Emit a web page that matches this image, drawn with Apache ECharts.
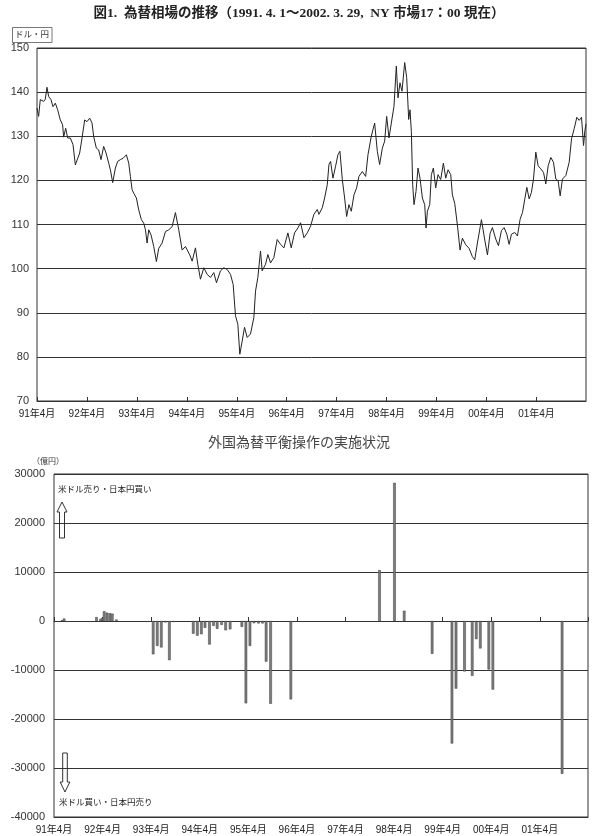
<!DOCTYPE html>
<html>
<head>
<meta charset="utf-8">
<script src="https://cdn.jsdelivr.net/npm/echarts@6/dist/echarts.min.js"></script>
<style>
html, body { margin: 0; padding: 0; background: #fff; }
#chart { width: 615px; height: 836px; }
</style>
</head>
<body>
<div id="chart"></div>
<script>
// x = months since 1991年4月1日
const yearLabels = ['91年4月', '92年4月', '93年4月', '94年4月', '95年4月', '96年4月', '97年4月', '98年4月', '99年4月', '00年4月', '01年4月']

// ドル・円 (NY 17:00)
const rateMonths = [
	0, 0.39, 0.79, 1.6, 2.0, 2.4, 2.8, 3.36, 3.84, 4.4, 4.96, 5.6, 6.16, 6.4, 6.89, 7.37, 8.01, 8.65, 9.21, 9.61,
	10.25, 10.82, 11.46, 12.02, 12.66, 13.22, 13.62, 14.26, 14.82, 15.38, 16.02, 16.59, 17.23, 17.63, 18.19, 18.83, 19.39, 20.03, 20.68, 21.48,
	22.04, 22.44, 22.84, 23.24, 23.88, 24.44, 25.08, 25.64, 26.05, 26.45, 26.85, 27.41, 28.05, 28.69, 29.25, 30.06, 30.86, 31.66, 32.46, 33.26,
	34.06, 34.87, 35.67, 36.71, 37.28, 38.07, 38.63, 39.27, 40.08, 40.88, 41.68, 42.48, 43.12, 44.08, 44.89, 45.69, 46.49, 47.13, 47.69, 48.25,
	48.73, 49.3, 49.86, 50.5, 51.3, 52.1, 52.5, 53.06, 53.7, 54.1, 54.91, 55.47, 56.11, 56.91, 57.71, 58.51, 59.32, 60.28, 61.08, 61.88,
	62.68, 63.32, 64.13, 64.93, 65.73, 66.53, 67.33, 67.73, 68.54, 69.1, 69.74, 70.14, 70.54, 71.1, 71.74, 72.3, 72.78, 73.35, 73.91, 74.39,
	74.95, 75.51, 76.15, 76.79, 77.35, 78.16, 78.96, 79.52, 80.32, 81.12, 81.76, 82.32, 82.97, 83.53, 84.01, 84.57, 85.13, 85.77, 86.33, 86.73,
	87.21, 87.69, 88.34, 88.82, 89.3, 89.62, 89.94, 90.26, 90.58, 91.06, 91.54, 92.02, 92.59, 93.15, 93.47, 93.79, 94.35, 94.75, 95.23, 95.79,
	96.35, 96.99, 97.64, 98.2, 98.76, 99.4, 99.8, 100.36, 101.0, 101.64, 102.2, 103.01, 103.81, 104.61, 105.17, 105.81, 106.78, 107.58, 108.22, 108.86,
	109.42, 110.22, 110.86, 111.58, 112.22, 112.87, 113.43, 113.99, 114.79, 115.43, 116.07, 116.64, 117.2, 117.68, 118.24, 118.8, 119.28, 119.84, 120.4, 121.04,
	121.69, 122.25, 122.81, 123.45, 124.09, 124.65, 125.21, 125.69, 126.25, 127.06, 127.86, 128.42, 129.06, 129.7, 130.26, 130.82, 131.31, 131.63, 131.9
]
const rateValues = [
	136.4, 134.5, 138.3, 137.9, 138.4, 141.1, 139.0, 138.3, 136.7, 137.5, 136.0, 133.7, 132.6, 129.8, 131.8, 129.6, 129.6, 128.1, 123.5, 123.9,
	126.2, 129.6, 133.7, 133.3, 134.1, 133.0, 129.9, 127.3, 126.9, 124.7, 127.7, 126.2, 123.9, 122.4, 119.5, 122.8, 124.3, 124.7, 125.0, 125.8,
	123.9, 120.9, 117.9, 117.1, 116.0, 113.3, 111.1, 110.3, 108.8, 105.8, 108.8, 107.6, 105.0, 101.6, 104.6, 105.8, 108.4, 108.8, 109.5, 112.7,
	108.8, 104.2, 105.0, 103.1, 101.7, 104.7, 101.0, 97.6, 100.2, 98.7, 98.0, 99.1, 96.8, 99.5, 100.2, 99.8, 98.7, 96.4, 89.3, 87.4,
	80.6, 83.6, 86.7, 84.4, 85.2, 88.9, 94.9, 98.0, 104.0, 99.5, 101.0, 103.2, 101.3, 102.5, 106.6, 105.5, 104.7, 108.1, 104.7, 108.1,
	109.2, 110.4, 107.0, 108.1, 109.6, 112.3, 113.4, 112.3, 113.8, 116.0, 119.0, 123.6, 124.3, 120.5, 123.2, 125.8, 126.6, 120.2, 116.0, 111.8,
	114.5, 113.0, 116.7, 118.3, 120.9, 122.0, 120.9, 125.8, 130.0, 133.0, 126.6, 123.6, 127.3, 128.9, 134.5, 129.6, 133.0, 136.8, 145.9, 138.7,
	142.1, 140.2, 146.7, 143.3, 133.8, 136.0, 131.1, 119.0, 114.5, 117.5, 122.8, 120.5, 116.0, 114.5, 109.2, 113.0, 114.5, 121.3, 122.8, 118.3,
	121.3, 120.2, 123.9, 120.5, 122.4, 121.3, 116.7, 114.8, 109.9, 104.2, 106.9, 105.4, 104.6, 102.7, 102.0, 105.8, 111.1, 106.5, 103.1, 108.0,
	109.3, 106.7, 105.2, 108.6, 109.3, 107.8, 105.5, 107.8, 108.2, 107.4, 111.2, 112.7, 115.8, 118.4, 115.8, 117.3, 120.3, 126.4, 123.3, 122.6,
	121.8, 119.2, 123.3, 125.2, 124.1, 120.3, 119.9, 116.5, 120.3, 121.1, 124.1, 129.4, 131.7, 134.3, 133.6, 134.3, 127.9, 131.3, 132.8
]

// 外国為替平衡操作 (億円)
const barMonths = [
	2.0, 2.5, 10.5, 11.5, 11.9, 12.4, 13.1, 13.8, 14.4, 15.4,
	24.5, 25.5, 26.5, 27.5, 28.5, 29.5,
	34.4, 35.4, 36.4, 37.3, 38.4, 39.4, 40.3, 41.4, 42.4, 43.5,
	46.4, 47.4, 48.4, 49.4, 50.5, 51.5, 52.4, 53.5, 58.5,
	80.4, 84.1, 86.5,
	93.4, 98.3, 99.3, 101.4, 103.3, 104.3, 105.3, 107.4, 108.4, 125.5
]
const barValues = [
	150, 500, 800, 400, 600, 2000, 1700, 1600, 1500, 300,
	-6800, -5100, -5400, -300, -8000, -200,
	-2600, -3000, -2700, -1400, -4800, -1000, -1600, -800, -1900, -1700,
	-1200, -16800, -5100, -450, -500, -500, -8300, -16900, -16000,
	10400, 28200, 2100,
	-6700, -25000, -13800, -10300, -11200, -3700, -5600, -9900, -14000, -31200
]

const rateTicks = [70, 150, 10]
const flowTicks = [-40000, 30000, 10000]

const sansFont = '"Liberation Sans", "Noto Sans CJK JP", sans-serif'
const serifFont = '"Liberation Serif", "Noto Sans CJK JP", serif'
const lineColor = '#333'

const chart = echarts.init(document.getElementById('chart'))

const monthAxis = (gridIndex, margin) => ({
	type: 'value',
	gridIndex,
	min: 0,
	max: 131.9,
	interval: 12,
	splitLine: { show: false },
	axisLine: { onZero: false, lineStyle: { color: lineColor, width: 1 } },
	axisTick: { show: false },
	axisLabel: {
		margin,
		fontSize: 10,
		fontFamily: sansFont,
		color: '#222',
		showMaxLabel: false,
		formatter: v => yearLabels[Math.round(v / 12)] || ''
	}
})

const valueAxis = (gridIndex, ticks, margin) => ({
	type: 'value',
	gridIndex,
	min: ticks[0],
	max: ticks[1],
	interval: ticks[2],
	axisLine: { show: false },
	axisTick: { show: false },
	splitLine: { lineStyle: { color: lineColor, width: 1 } },
	axisLabel: { margin, fontSize: 11, fontFamily: sansFont, color: '#333', formatter: v => String(v) }
})

const option = {
	animation: false,
	backgroundColor: '#fff',
	grid: [
		{ left: 37, top: 48, width: 549, height: 353, show: true, borderColor: lineColor, borderWidth: 1 },
		{ left: 54, top: 474, width: 534, height: 343, show: true, borderColor: lineColor, borderWidth: 1 }
	],
	xAxis: [
		Object.assign(monthAxis(0, 8), {
			axisTick: { show: true, inside: true, length: 4, lineStyle: { color: lineColor } }
		}),
		monthAxis(1, 8),
		{
			// ticks on the zero line
			type: 'value',
			gridIndex: 1,
			min: 0,
			max: 131.9,
			interval: 12,
			position: 'bottom',
			splitLine: { show: false },
			axisLabel: { show: false },
			axisLine: { onZero: true, onZeroAxisIndex: 1, lineStyle: { color: lineColor, width: 1 } },
			axisTick: { show: true, inside: true, length: 4, lineStyle: { color: lineColor } }
		}
	],
	yAxis: [
		valueAxis(0, rateTicks, 8),
		valueAxis(1, flowTicks, 9)
	],
	series: [
		{
			type: 'line',
			xAxisIndex: 0,
			yAxisIndex: 0,
			showSymbol: false,
			lineStyle: { color: '#222', width: 1 },
			data: rateMonths.map((m, i) => [m, rateValues[i]])
		},
		{
			type: 'bar',
			xAxisIndex: 1,
			yAxisIndex: 1,
			barWidth: 2.6,
			itemStyle: { color: '#7d7d7d', borderColor: '#3c3c3c', borderWidth: 0.5 },
			data: barMonths.map((m, i) => [m, barValues[i]])
		}
	],
	graphic: [
		{
			type: 'text', x: 299, y: 14,
			style: { text: '図1.  為替相場の推移（1991. 4. 1～2002. 3. 29,  NY 市場17：00 現在）', font: 'bold 13.5px ' + serifFont, fill: '#222', align: 'center', verticalAlign: 'middle' }
		},
		{
			type: 'rect', shape: { x: 12.5, y: 27.5, width: 39.5, height: 15 },
			style: { fill: '#fff', stroke: '#555', lineWidth: 0.8 }
		},
		{
			type: 'text', x: 32, y: 35,
			style: { text: 'ドル・円', font: '8.5px ' + sansFont, fill: '#333', align: 'center', verticalAlign: 'middle' }
		},
		{
			type: 'text', x: 299, y: 443,
			style: { text: '外国為替平衡操作の実施状況', font: '14px ' + serifFont, fill: '#444', align: 'center', verticalAlign: 'middle' }
		},
		{
			type: 'text', x: 48, y: 462,
			style: { text: '（億円）', font: '8px ' + sansFont, fill: '#333', align: 'center', verticalAlign: 'middle' }
		},
		{
			type: 'text', x: 58, y: 490,
			style: { text: '米ドル売り・日本円買い', font: '8.5px ' + sansFont, fill: '#222', align: 'left', verticalAlign: 'middle' }
		},
		{
			type: 'polygon',
			shape: { points: [[62, 502], [67, 512], [64.5, 512], [64.5, 538], [59.5, 538], [59.5, 512], [57, 512]] },
			style: { fill: '#fff', stroke: '#333', lineWidth: 1 }
		},
		{
			type: 'polygon',
			shape: { points: [[62.7, 753], [67.3, 753], [67.3, 782], [69.8, 782], [65, 792], [60.2, 782], [62.7, 782]] },
			style: { fill: '#fff', stroke: '#333', lineWidth: 1 }
		},
		{
			type: 'text', x: 59, y: 803,
			style: { text: '米ドル買い・日本円売り', font: '8.5px ' + sansFont, fill: '#222', align: 'left', verticalAlign: 'middle' }
		}
	]
}

chart.setOption(option)
</script>
</body>
</html>
